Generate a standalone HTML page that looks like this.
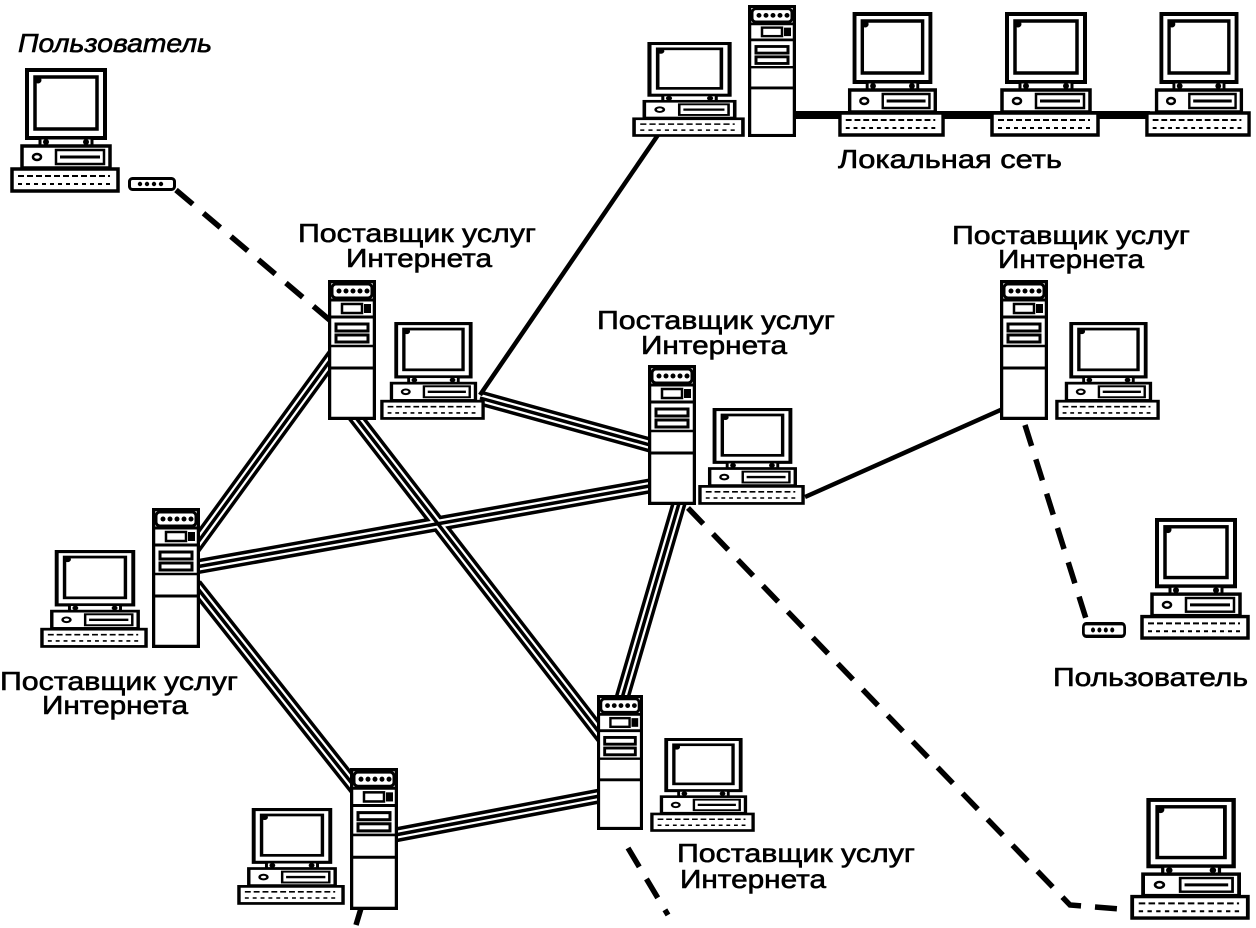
<!DOCTYPE html>
<html><head><meta charset="utf-8"><style>
html,body{margin:0;padding:0;background:#fff}
svg{display:block}
text{font-family:"Liberation Sans",Arial,sans-serif;font-size:26px;fill:#000;stroke:#000;stroke-width:0.6}
</style></head><body>
<svg width="1256" height="928" viewBox="0 0 1256 928" xmlns="http://www.w3.org/2000/svg">
<defs>
<symbol id="pc" viewBox="0 0 110 125" preserveAspectRatio="none">
 <rect x="17" y="2" width="78" height="68" fill="#fff" stroke="#000" stroke-width="4"/>
 <rect x="25" y="9" width="62" height="52" fill="#fff" stroke="#000" stroke-width="3.5"/>
 <circle cx="28" cy="12" r="3.5"/>
 <rect x="30" y="70" width="52" height="8" fill="#fff" stroke="#000" stroke-width="3"/>
 <circle cx="36" cy="74" r="3"/><circle cx="76" cy="74" r="3"/>
 <rect x="12" y="78" width="88" height="22" fill="#fff" stroke="#000" stroke-width="3.5"/>
 <ellipse cx="27" cy="89" rx="4" ry="3" fill="none" stroke="#000" stroke-width="2.5"/>
 <rect x="46" y="82" width="48" height="14" fill="none" stroke="#000" stroke-width="2.5"/>
 <line x1="50" y1="89" x2="90" y2="89" stroke="#000" stroke-width="3"/>
 <rect x="2" y="101" width="106" height="22" fill="#fff" stroke="#000" stroke-width="3.5"/>
 <line x1="8" y1="108" x2="100" y2="108" stroke="#000" stroke-width="2" stroke-dasharray="6 3"/>
 <line x1="8" y1="116" x2="100" y2="116" stroke="#000" stroke-width="2" stroke-dasharray="4 4"/>
</symbol>
<symbol id="tw" viewBox="0 0 48 140" preserveAspectRatio="none">
 <rect x="1.5" y="1.5" width="45" height="137" fill="#fff" stroke="#000" stroke-width="3.5"/>
 <rect x="4" y="4" width="40" height="14" rx="4" fill="#fff" stroke="#000" stroke-width="3"/>
 <circle cx="11" cy="11" r="2.5"/><circle cx="18" cy="11" r="2.5"/><circle cx="25" cy="11" r="2.5"/><circle cx="32" cy="11" r="2.5"/><circle cx="39" cy="11" r="2.5"/>
 <line x1="2" y1="20" x2="46" y2="20" stroke="#000" stroke-width="3"/>
 <rect x="14" y="24" width="20" height="9" fill="none" stroke="#000" stroke-width="2.5"/>
 <rect x="36" y="24" width="7" height="9"/>
 <line x1="2" y1="37" x2="46" y2="37" stroke="#000" stroke-width="3"/>
 <rect x="8" y="44" width="32" height="7" fill="none" stroke="#000" stroke-width="3"/>
 <rect x="8" y="55" width="32" height="7" fill="none" stroke="#000" stroke-width="3"/>
 <line x1="2" y1="66" x2="46" y2="66" stroke="#000" stroke-width="2.5"/>
 <line x1="2" y1="88" x2="46" y2="88" stroke="#000" stroke-width="3"/>
</symbol>
<symbol id="modem" viewBox="0 0 48 14" preserveAspectRatio="none">
 <rect x="1.5" y="1.5" width="45" height="11" rx="3" fill="#fff" stroke="#000" stroke-width="3"/>
 <circle cx="12" cy="7" r="2.2"/><circle cx="19" cy="7" r="2.2"/><circle cx="26" cy="7" r="2.2"/><circle cx="33" cy="7" r="2.2"/>
</symbol>
</defs>

<g fill="none" stroke-linecap="butt">
 <g stroke="#000" stroke-width="15">
  <path d="M345 340 L185 560"/><path d="M350 410 L605 740"/><path d="M480 398 L650 445"/>
  <path d="M190 568 L655 485"/><path d="M195 585 L365 800"/><path d="M395 835 L605 795"/><path d="M680 500 L620 705"/>
 </g>
 <g stroke="#fff" stroke-width="8">
  <path d="M345 340 L185 560"/><path d="M350 410 L605 740"/><path d="M480 398 L650 445"/>
  <path d="M190 568 L655 485"/><path d="M195 585 L365 800"/><path d="M395 835 L605 795"/><path d="M680 500 L620 705"/>
 </g>
 <g stroke="#000" stroke-width="3.5">
  <path d="M345 340 L185 560"/><path d="M350 410 L605 740"/><path d="M480 398 L650 445"/>
  <path d="M190 568 L655 485"/><path d="M195 585 L365 800"/><path d="M395 835 L605 795"/><path d="M680 500 L620 705"/>
 </g>
 <path d="M805 497 L1005 408" stroke="#000" stroke-width="4.5"/>
 <path d="M480 395 L660 132" stroke="#000" stroke-width="4.5"/>
 <path d="M795 115 L1150 115" stroke="#000" stroke-width="8"/>
 <g stroke="#000" stroke-width="5.5" stroke-dasharray="22 14">
  <path d="M176 190 L332 322"/>
  <path d="M1025 425 L1088 625"/>
  <path d="M688 508 L1070 905 L1132 910"/>
  <path d="M628 848 L668 915"/>
  <path d="M362 905 L356 925"/>
 </g>
</g>

<use href="#pc" x="10" y="68" width="110" height="125"/>
<use href="#modem" x="128" y="177" width="48" height="14"/>
<use href="#pc" x="632" y="42" width="113" height="95"/>
<use href="#tw" x="748" y="5" width="48" height="132"/>
<use href="#pc" x="838" y="12" width="107" height="125"/>
<use href="#pc" x="990" y="12" width="110" height="125"/>
<use href="#pc" x="1145" y="12" width="106" height="125"/>
<use href="#tw" x="328" y="280" width="48" height="140"/>
<use href="#pc" x="380" y="322" width="105" height="98"/>
<use href="#tw" x="648" y="365" width="48" height="140"/>
<use href="#pc" x="698" y="408" width="107" height="97"/>
<use href="#tw" x="1000" y="280" width="48" height="140"/>
<use href="#pc" x="1055" y="322" width="105" height="98"/>
<use href="#pc" x="1140" y="518" width="110" height="122"/>
<use href="#modem" x="1082" y="622" width="44" height="16"/>
<use href="#pc" x="40" y="550" width="108" height="98"/>
<use href="#tw" x="152" y="508" width="48" height="140"/>
<use href="#tw" x="597" y="695" width="46" height="135"/>
<use href="#pc" x="650" y="738" width="105" height="94"/>
<use href="#pc" x="237" y="808" width="108" height="97"/>
<use href="#tw" x="350" y="768" width="48" height="142"/>
<use href="#pc" x="1130" y="798" width="120" height="122"/>

<text x="18" y="52" font-style="italic" textLength="194" lengthAdjust="spacingAndGlyphs">Пользователь</text>
<text x="838" y="168" textLength="224" lengthAdjust="spacingAndGlyphs">Локальная сеть</text>
<text x="298" y="242" textLength="238" lengthAdjust="spacingAndGlyphs">Поставщик услуг</text>
<text x="346" y="267" textLength="146" lengthAdjust="spacingAndGlyphs">Интернета</text>
<text x="597" y="329" textLength="238" lengthAdjust="spacingAndGlyphs">Поставщик услуг</text>
<text x="641" y="354" textLength="146" lengthAdjust="spacingAndGlyphs">Интернета</text>
<text x="952" y="244" textLength="238" lengthAdjust="spacingAndGlyphs">Поставщик услуг</text>
<text x="998" y="268" textLength="146" lengthAdjust="spacingAndGlyphs">Интернета</text>
<text x="0" y="690" textLength="238" lengthAdjust="spacingAndGlyphs">Поставщик услуг</text>
<text x="42" y="714" textLength="146" lengthAdjust="spacingAndGlyphs">Интернета</text>
<text x="1053" y="686" textLength="195" lengthAdjust="spacingAndGlyphs">Пользователь</text>
<text x="677" y="862" textLength="238" lengthAdjust="spacingAndGlyphs">Поставщик услуг</text>
<text x="680" y="888" textLength="146" lengthAdjust="spacingAndGlyphs">Интернета</text>
</svg>
</body></html>
